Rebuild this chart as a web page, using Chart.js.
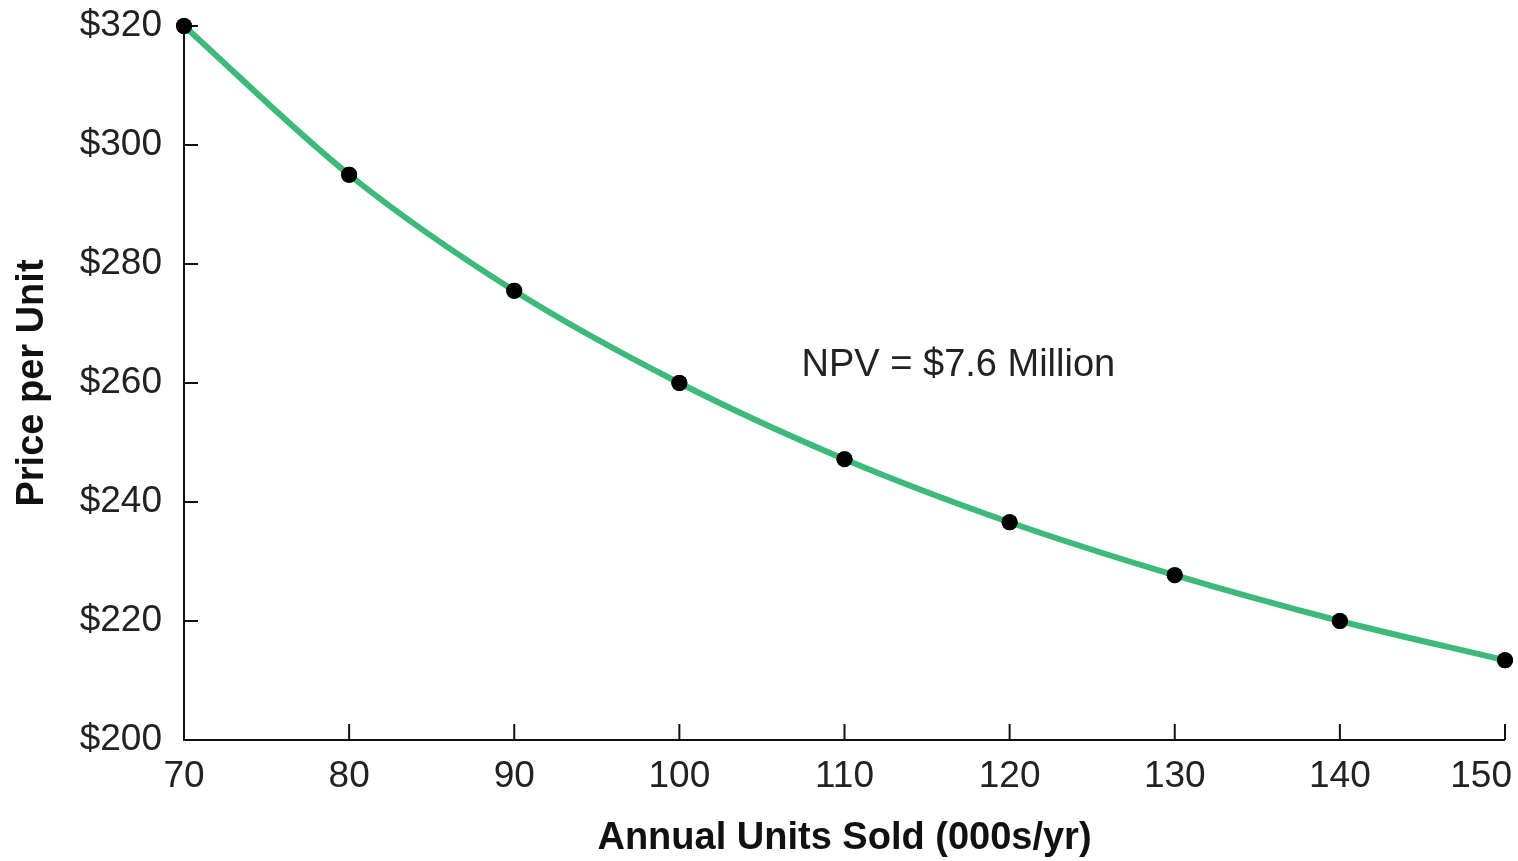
<!DOCTYPE html>
<html>
<head>
<meta charset="utf-8">
<script src="https://cdn.jsdelivr.net/npm/chart.js@4.4.1/dist/chart.umd.min.js"></script>
<style>
  html, body { margin: 0; padding: 0; background: #fff; }
  #wrap { width: 1518px; height: 861px; }
</style>
</head>
<body>
<div id="wrap"><canvas id="npv_chart"></canvas></div>
<script>
//! Data
const units_sold = [70, 80, 90, 100, 110, 120, 130, 140, 150];
const price_per_unit = [320, 295, 275.5, 260, 247.2, 236.6, 227.7, 220, 213.4];
const y_ticks = [200, 220, 240, 260, 280, 300, 320];
const note_text = 'NPV = $7.6 Million';
const note_at = { x: 107.4, y: 262.9 };

const ctx = document.getElementById('npv_chart').getContext('2d');
const font_face = '"Liberation Sans", Arial, sans-serif';

//! Inward tick marks, x labels (kept inside the canvas) + annotation
const extras = {
    id: 'extras',
    afterDraw(chart) {
        const c = chart.ctx, xs = chart.scales.x, ys = chart.scales.y;
        const area = chart.chartArea;
        c.save();
        c.strokeStyle = '#111';
        c.lineWidth = 2;
        // axis lines
        c.beginPath();
        c.moveTo(area.left, area.top);
        c.lineTo(area.left, area.bottom);
        c.lineTo(area.right, area.bottom);
        c.stroke();
        // y ticks pointing right
        y_ticks.forEach(v => {
            const py = ys.getPixelForValue(v);
            c.beginPath();
            c.moveTo(area.left, py);
            c.lineTo(area.left + 14, py);
            c.stroke();
        });
        // x ticks pointing up + labels
        c.fillStyle = '#222';
        c.font = '37px ' + font_face;
        c.textBaseline = 'alphabetic';
        c.textAlign = 'center';
        units_sold.forEach(v => {
            const px = xs.getPixelForValue(v);
            c.beginPath();
            c.moveTo(px, area.bottom);
            c.lineTo(px, area.bottom - 16);
            c.stroke();
            const label = String(v);
            const w = c.measureText(label).width;
            const cx = Math.min(px, chart.width - 6 - w / 2);
            c.fillText(label, cx, area.bottom + 47);
        });
        c.font = '38px ' + font_face;
        c.textBaseline = 'middle';
        c.textAlign = 'left';
        c.fillText(note_text, xs.getPixelForValue(note_at.x), ys.getPixelForValue(note_at.y));
        c.restore();
        // redraw points on top of axes
        chart.getDatasetMeta(0).data.forEach(p => p.draw(c));
    }
};

let my_chart = new Chart(ctx, {
    type: 'line',
    data: {
        datasets: [{
            data: units_sold.map((u, i) => ({ x: u, y: price_per_unit[i] })),
            borderColor: '#3dba7a',
            borderWidth: 6,
            cubicInterpolationMode: 'monotone',
            pointRadius: 8,
            pointBackgroundColor: '#000',
            pointBorderColor: '#000',
            pointBorderWidth: 0,
            fill: false,
            clip: false
        }]
    },
    options: {
        responsive: true,
        maintainAspectRatio: false,
        animation: false,
        layout: { padding: { top: 26, right: 13, bottom: 0, left: 10 } },
        plugins: { legend: { display: false }, tooltip: { enabled: false } },
        scales: {
            x: {
                type: 'linear',
                min: 70, max: 150,
                grid: { display: false },
                border: { display: false },
                afterBuildTicks: s => { s.ticks = units_sold.map(v => ({ value: v })); },
                afterFit: s => { s.height = 121; s.paddingLeft = 0; s.paddingRight = 0; },
                ticks: { display: false },
                title: {
                    display: true,
                    text: 'Annual Units Sold (000s/yr)',
                    color: '#111',
                    padding: { top: 8, bottom: 0 },
                    font: { family: font_face, size: 38, weight: 'bold' }
                }
            },
            y: {
                min: 200, max: 320,
                grid: { display: false },
                border: { display: false },
                afterBuildTicks: s => { s.ticks = y_ticks.map(v => ({ value: v })); },
                afterFit: s => { s.width = 174; s.paddingTop = 0; s.paddingBottom = 0; },
                ticks: {
                    color: '#222',
                    padding: 14,
                    font: { family: font_face, size: 37 },
                    callback: v => '$' + v
                },
                title: {
                    display: true,
                    text: 'Price per Unit',
                    color: '#111',
                    padding: { top: 0, bottom: 4 },
                    font: { family: font_face, size: 38, weight: 'bold' }
                }
            }
        }
    },
    plugins: [extras]
});
</script>
</body>
</html>
